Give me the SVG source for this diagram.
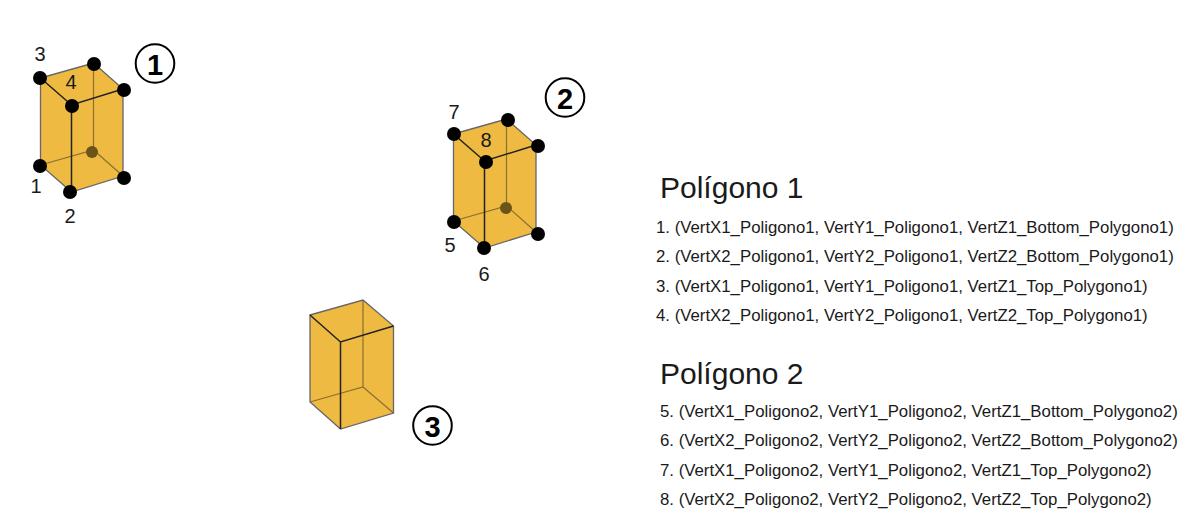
<svg xmlns="http://www.w3.org/2000/svg" width="1195" height="530" viewBox="0 0 1195 530">
<style>
text{font-family:"Liberation Sans",Arial,sans-serif;fill:#1a1a1a}
.fill{fill:#eeba42;stroke:none}
.edge{fill:none;stroke:#666;stroke-width:1.3}
.front{fill:none;stroke:#222;stroke-width:1.5}
.back{fill:none;stroke:#8a7030;stroke-width:1.2}
.dot{fill:#000}
.hid{fill:#6b5418}
.num{font-size:20px;text-anchor:middle}
.badge{fill:#fff;stroke:#000;stroke-width:2}
.bn{font-size:29px;font-weight:bold;text-anchor:middle;fill:#000}
.h{font-size:30px}
.l{font-size:16.8px}
</style>
<defs>
<g id="box">
<path class="fill" d="M0 0L53-15L82.5 11V98L31 114L0 87Z"/>
<path class="back" d="M53-15V72M0 87L53 72L82.5 98"/>
<path class="edge" d="M0 0L53-15L82.5 11V98L31 114L0 87Z"/>
<path class="front" d="M0 0L31 27L82.5 11M31 27V114"/>
</g>
<g id="boxb">
<path class="fill" d="M0 0L53-15L83.5 11V98L30.5 114L0 87Z"/>
<path class="back" d="M53-15V72M0 87L53 72L83.5 98"/>
<path class="edge" d="M0 0L53-15L83.5 11V98L30.5 114L0 87Z"/>
<path class="front" d="M0 0L30.5 27L83.5 11M30.5 27V114"/>
</g>
</defs>
<g id="connectors"/>
<g id="node-1">
<use href="#box" x="40.5" y="78"/>
<circle class="dot" cx="40" cy="78" r="7"/><circle class="dot" cx="94" cy="64" r="7"/><circle class="dot" cx="124" cy="90" r="7"/><circle class="dot" cx="72" cy="106" r="7"/>
<circle class="dot" cx="40" cy="166" r="7"/><circle class="hid" cx="92" cy="152" r="6"/><circle class="dot" cx="124" cy="178" r="7"/><circle class="dot" cx="70" cy="192" r="7"/>
<text class="num" x="40" y="61">3</text><text class="num" x="71" y="89">4</text><text class="num" x="36" y="193">1</text><text class="num" x="70" y="223">2</text>
<circle class="badge" cx="155" cy="63.5" r="19.3"/><text class="bn" x="155" y="75">1</text>
</g>
<g id="node-2">
<use href="#box" x="453.5" y="134"/>
<circle class="dot" cx="454" cy="134" r="7"/><circle class="dot" cx="508" cy="120" r="7"/><circle class="dot" cx="538" cy="146" r="7"/><circle class="dot" cx="486" cy="162" r="7"/>
<circle class="dot" cx="454" cy="222" r="7"/><circle class="hid" cx="506" cy="208" r="6"/><circle class="dot" cx="538" cy="234" r="7"/><circle class="dot" cx="484" cy="248" r="7"/>
<text class="num" x="454" y="119">7</text><text class="num" x="486" y="147">8</text><text class="num" x="450" y="252">5</text><text class="num" x="484" y="281">6</text>
<circle class="badge" cx="565" cy="97.5" r="19.3"/><text class="bn" x="565" y="108.5">2</text>
</g>
<g id="node-3">
<use href="#boxb" x="310" y="315"/>
<circle class="badge" cx="432.5" cy="425.5" r="19.3"/><text class="bn" x="432.5" y="436.5">3</text>
</g>
<g id="legend">
<text class="h" x="660" y="198">Polígono 1</text>
<text class="l" x="656" y="233">1. (VertX1_Poligono1, VertY1_Poligono1, VertZ1_Bottom_Polygono1)</text>
<text class="l" x="656" y="262">2. (VertX2_Poligono1, VertY2_Poligono1, VertZ2_Bottom_Polygono1)</text>
<text class="l" x="656" y="292">3. (VertX1_Poligono1, VertY1_Poligono1, VertZ1_Top_Polygono1)</text>
<text class="l" x="656" y="321">4. (VertX2_Poligono1, VertY2_Poligono1, VertZ2_Top_Polygono1)</text>
<text class="h" x="660" y="384">Polígono 2</text>
<text class="l" x="660" y="417">5. (VertX1_Poligono2, VertY1_Poligono2, VertZ1_Bottom_Polygono2)</text>
<text class="l" x="660" y="446">6. (VertX2_Poligono2, VertY2_Poligono2, VertZ2_Bottom_Polygono2)</text>
<text class="l" x="660" y="476">7. (VertX1_Poligono2, VertY1_Poligono2, VertZ1_Top_Polygono2)</text>
<text class="l" x="660" y="505">8. (VertX2_Poligono2, VertY2_Poligono2, VertZ2_Top_Polygono2)</text>
</g>
</svg>
